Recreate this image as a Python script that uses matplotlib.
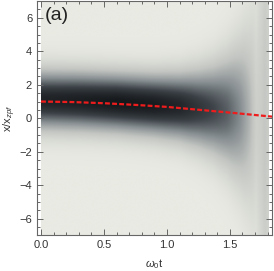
import numpy as np
import matplotlib
matplotlib.use("Agg")
import matplotlib.pyplot as plt
from matplotlib.colors import LinearSegmentedColormap
from matplotlib.ticker import MultipleLocator

plt.rcParams["font.family"] = ["Liberation Sans", "DejaVu Sans"]
plt.rcParams["mathtext.fontset"] = "custom"
plt.rcParams["mathtext.rm"] = "Liberation Sans"
plt.rcParams["mathtext.it"] = "Liberation Sans:italic"

# packet parameters, per time knot
knot_t = [0.0, 0.3, 0.6, 0.9, 1.1, 1.25, 1.37, 1.48, 1.58, 1.65, 1.71, 1.75, 1.78, 1.81]
knot_center = [1.05, 1.0, 0.9, 0.75, 0.65, 0.55, 0.47, 0.38, 0.3, 0.25, 0.2, 0.15, 0.12, 0.1]
knot_sigma = [1.15, 1.15, 1.15, 1.2, 1.3, 1.5, 1.75, 2.15, 2.8, 3.6, 5.0, 8.0, 10.0, 10.0]
knot_amp = [0.93, 0.96, 1.0, 0.98, 0.92, 0.82, 0.74, 0.65, 0.5, 0.34, 0.18, 0.2, 0.24, 0.2]

# red dashed classical trajectory
line_t = [0.0, 0.25, 0.5, 0.75, 1.0, 1.25, 1.5, 1.75, 1.835]
line_x = [1.0, 0.97, 0.9, 0.8, 0.68, 0.51, 0.34, 0.16, 0.1]

x_ticks = [0.0, 0.5, 1.0, 1.5]
y_ticks = [-6, -4, -2, 0, 2, 4, 6]

t_grid = np.linspace(0, 1.81, 400)
y_grid = np.linspace(-7, 7, 400)
c = np.interp(t_grid, knot_t, knot_center)
s = np.interp(t_grid, knot_t, knot_sigma)
a = np.interp(t_grid, knot_t, knot_amp)
T, Y = np.meshgrid(t_grid, y_grid)
dens = a[None, :] * np.exp(-(Y - c[None, :]) ** 2 / (2 * s[None, :] ** 2))

cmap = LinearSegmentedColormap.from_list(
    "mgray", ["#e9eae3", "#c2c5c1", "#848b8f", "#3b4146", "#16191c"])

fig = plt.figure(figsize=(2.74, 2.71), dpi=100)
ax = fig.add_axes([0.135, 0.131, 0.858, 0.865])
ax.imshow(dens, extent=[0, 1.81, -7, 7], origin="lower", aspect="auto",
          cmap=cmap, vmin=0, vmax=1, interpolation="bilinear")
ax.plot(line_t, line_x, color="#ee1c1c", lw=1.6, dashes=(2.2, 1.0))

ax.set_xlim(-0.032, 1.835)
ax.set_ylim(-7, 7)
ax.set_xticks(x_ticks)
ax.set_xticklabels([f"{v:.1f}" for v in x_ticks])
ax.set_yticks(y_ticks)
ax.set_yticklabels([str(v).replace("-", "\u2212") for v in y_ticks])
ax.xaxis.set_minor_locator(MultipleLocator(0.1))
ax.yaxis.set_minor_locator(MultipleLocator(0.5))
ax.tick_params(which="both", direction="in", top=True, right=True,
               color="#666666", labelsize=8, labelcolor="#333333", width=0.7)
ax.tick_params(which="major", length=4)
ax.tick_params(which="minor", length=2)
for sp in ax.spines.values():
    sp.set_color("#666666")
    sp.set_linewidth(0.8)

ax.set_xlabel(r"$\omega_0$t", fontsize=8, color="#333333", labelpad=5)
ax.set_ylabel(r"x/x$_{zpf}$", fontsize=8, color="#333333", labelpad=1)
ax.text(0.035, 0.975, "(a)", transform=ax.transAxes, fontsize=14,
        color="#222222", va="top", ha="left")

fig.savefig("out.png", dpi=100)
